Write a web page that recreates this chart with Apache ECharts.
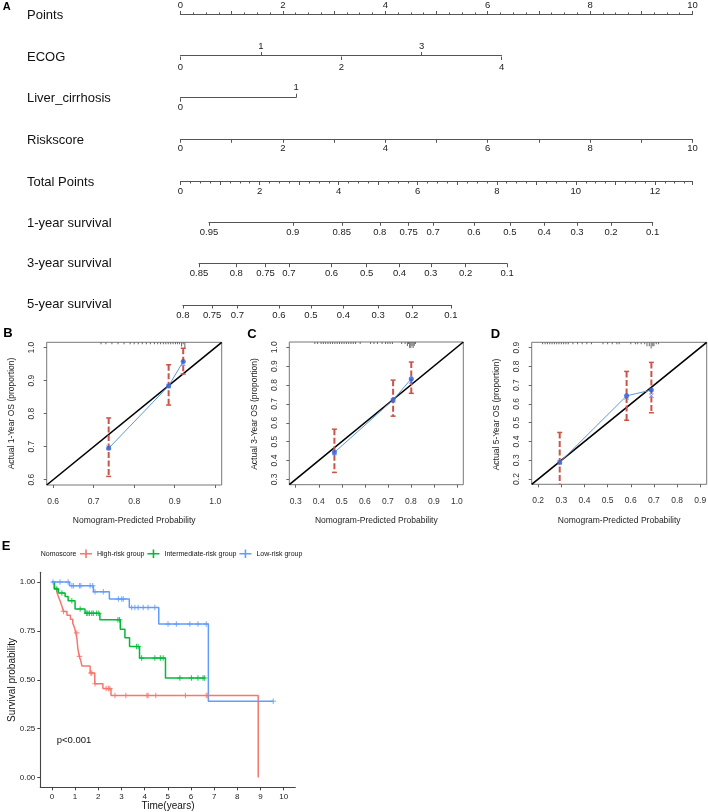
<!DOCTYPE html>
<html><head><meta charset="utf-8">
<script src="https://cdn.jsdelivr.net/npm/echarts@6/dist/echarts.min.js"></script>
<style>html,body{margin:0;padding:0;background:#fff}#c{width:708px;height:812px}</style>
</head><body><div id="c"></div>
<script>
// ================= DATA =================
// --- Panel A: nomogram ---
const rowLabels = ['Points','ECOG','Liver_cirrhosis','Riskscore','Total Points','1-year survival','3-year survival','5-year survival'];
const pointsMax = 10;
const ecogLevels = [0,1,2,3,4];
const ecogPoints = [0,1.57,3.14,4.71,6.27];
const liverLevels = [0,1];
const liverPoints = [0,2.26];
const riskscoreMax = 10;
const totalPointsMax = 12.95;
const surv1Labels = [0.95,0.9,0.85,0.8,0.75,0.7,0.6,0.5,0.4,0.3,0.2,0.1];
const surv1TP     = [0.72,2.84,4.08,5.04,5.77,6.39,7.42,8.33,9.20,10.03,10.89,11.94];
const surv3Labels = [0.85,0.8,0.75,0.7,0.6,0.5,0.4,0.3,0.2,0.1];
const surv3TP     = [0.47,1.41,2.15,2.74,3.82,4.71,5.54,6.33,7.21,8.26];
const surv5Labels = [0.8,0.75,0.7,0.6,0.5,0.4,0.3,0.2,0.1];
const surv5TP     = [0.06,0.80,1.44,2.49,3.30,4.12,5.00,5.85,6.84];

// --- Panels B/C/D: calibration ---
const calTicksB = [0.6,0.7,0.8,0.9,1.0];
const calTicksC = [0.3,0.4,0.5,0.6,0.7,0.8,0.9,1.0];
const calTicksD = [0.2,0.3,0.4,0.5,0.6,0.7,0.8,0.9];
const calB_pred = [0.737,0.885,0.921];
const calB_obs  = [0.695,0.884,0.958];
const calB_cor  = [0.697,0.884,0.951];
const calB_lo   = [0.610,0.826,0.920];
const calB_hi   = [0.787,0.948,0.998];
const calC_pred = [0.468,0.723,0.802];
const calC_obs  = [0.443,0.721,0.833];
const calC_cor  = [0.440,0.718,0.819];
const calC_lo   = [0.337,0.635,0.756];
const calC_hi   = [0.566,0.826,0.922];
const calD_pred = [0.293,0.582,0.689];
const calD_obs  = [0.288,0.643,0.674];
const calD_cor  = [0.290,0.636,0.643];
const calD_lo   = [0.160,0.513,0.553];
const calD_hi   = [0.448,0.773,0.821];
const calB_rugX = [0.718,0.73,0.745,0.76,0.775,0.79,0.80,0.81,0.82,0.83,0.84,0.85,0.858,0.865,0.872,0.878,0.884,0.89,0.896,0.902,0.907,0.912,0.917,0.921,0.925];
const calB_rugN = [1,1,1,1,1,1,1,1,1,1,1,1,1,1,1,1,1,1,1,1,1,1,2,1,3];
const calC_rugX = [0.383,0.395,0.41,0.42,0.43,0.44,0.45,0.46,0.47,0.48,0.49,0.50,0.51,0.52,0.53,0.54,0.55,0.56,0.58,0.625,0.64,0.655,0.675,0.69,0.70,0.71,0.72,0.76,0.775,0.785,0.79,0.795,0.80,0.805,0.81,0.815,0.82];
const calC_rugN = [1,1,1,1,1,1,1,1,1,1,1,1,1,1,1,1,1,1,1,1,1,1,1,1,1,1,1,1,1,2,1,3,3,2,3,2,1];
const calD_rugX = [0.219,0.23,0.24,0.25,0.26,0.27,0.28,0.29,0.30,0.31,0.32,0.33,0.35,0.37,0.39,0.41,0.43,0.48,0.50,0.52,0.54,0.55,0.60,0.62,0.63,0.645,0.66,0.67,0.68,0.688,0.695,0.70,0.71,0.72];
const calD_rugN = [1,1,1,1,1,1,1,1,1,1,1,1,1,1,1,1,1,1,1,1,1,1,1,1,1,1,1,2,2,3,2,2,1,1];
const calXTitle = 'Nomogram-Predicted Probability';
const calYTitles = ['Actual 1-Year OS (proportion)','Actual 3-Year OS (proportion)','Actual 5-Year OS (proportion)'];

// --- Panel E: Kaplan-Meier ---
const kmGroups = ['High-risk group','Intermediate-risk group','Low-risk group'];
const kmTimeHigh = [0,0.12,0.22,0.30,0.38,0.45,0.50,0.65,0.80,0.90,0.98,1.03,1.08,1.12,1.18,1.24,1.30,1.65,1.85,2.20,2.55,8.90];
const kmSurvHigh = [1,0.97,0.945,0.92,0.895,0.87,0.85,0.83,0.81,0.79,0.765,0.74,0.71,0.66,0.62,0.60,0.57,0.535,0.48,0.455,0.42,0];
const censorHigh = [0.50,1.07,1.19,1.68,1.72,1.86,2.34,2.44,2.50,2.72,3.19,4.10,4.15,4.48,5.76,6.66,6.73];
const kmTimeInt  = [0,0.10,0.28,0.57,0.70,1.00,1.43,2.07,2.95,3.15,3.35,3.78,4.90,6.60];
const kmSurvInt  = [1,0.965,0.944,0.926,0.905,0.862,0.84,0.807,0.759,0.715,0.67,0.611,0.509,0.509];
const censorInt  = [0.21,0.43,0.86,1.22,1.50,1.55,1.62,1.72,1.79,1.93,2.02,2.85,2.92,3.65,3.72,3.87,4.44,4.68,4.80,5.52,6.02,6.30,6.52,6.59];
const kmTimeLow  = [0,0.76,1.79,2.48,3.34,4.61,6.75,9.55];
const kmSurvLow  = [1,0.981,0.95,0.913,0.87,0.785,0.39,0.39];
const censorLow  = [0.05,0.35,0.70,0.86,0.93,1.19,1.25,1.65,1.76,1.86,2.22,2.87,3.01,3.08,3.44,3.58,3.72,3.94,4.15,4.44,5.01,5.37,5.95,6.30,6.66,9.55];
const kmXTicks = [0,1,2,3,4,5,6,7,8,9,10];
const kmYTicks = [0,0.25,0.5,0.75,1];
const pValueText = 'p<0.001';

// ================= BUILD =================
const FONT = '"Liberation Sans", Arial, Helvetica, sans-serif';
const PT_X0 = 180.5, PT_PX = 51.2, TP_PX = 512 / totalPointsMax;
const AX = '#555';
const grids = [], xAxes = [], yAxes = [], series = [], graphics = [];

function addGrid(g) {
  grids.push(Object.assign({show:false, containLabel:false, outerBoundsMode:'none'}, g));
  return grids.length - 1;
}
function rowGrid(top, unit, min, max) {
  const gi = addGrid({left: PT_X0 + min*unit, top: top, width: (max-min)*unit, height: 1});
  yAxes.push({gridIndex: gi, type:'value', show:false, min:0, max:1});
  return gi;
}
function rowAxis(gi, pos, min, max, o) {
  xAxes.push({
    gridIndex: gi, type:'value', position: pos, min: min, max: max, interval: o.interval,
    splitLine:{show:false},
    axisLine:{show: o.line !== false, onZero:false, lineStyle:{color:AX, width:1.2}},
    axisTick:{show:true, length:3.5, customValues:o.ticks, lineStyle:{color:AX, width:1}},
    minorTick: o.minor ? {show:true, splitNumber:o.minor, length:2, lineStyle:{color:AX, width:1}} : {show:false},
    axisLabel:{show:true, customValues:o.labels, formatter:o.fmt, margin:o.margin, fontSize:9.5, color:'#222', fontFamily:FONT}
  });
}
const lookup = (keys, vals) => v => { const i = keys.findIndex(k => Math.abs(k - v) < 1e-6); return i >= 0 ? String(vals[i]) : ''; };
const evenFmt = v => (Math.abs(v % 2) < 1e-9) ? String(v) : '';

// Points
let g = rowGrid(14.5, PT_PX, 0, pointsMax);
rowAxis(g, 'top', 0, pointsMax, {interval:1, minor:4, fmt:evenFmt, margin:4.5});
// ECOG
g = rowGrid(55.5, PT_PX, 0, ecogPoints[ecogPoints.length-1]);
rowAxis(g, 'top', 0, ecogPoints[ecogPoints.length-1], {ticks:[ecogPoints[1],ecogPoints[3]], labels:[ecogPoints[1],ecogPoints[3]], fmt:lookup(ecogPoints, ecogLevels), margin:4});
rowAxis(g, 'bottom', 0, ecogPoints[ecogPoints.length-1], {line:false, ticks:[ecogPoints[0],ecogPoints[2],ecogPoints[4]], labels:[ecogPoints[0],ecogPoints[2],ecogPoints[4]], fmt:lookup(ecogPoints, ecogLevels), margin:5.5});
// Liver cirrhosis
g = rowGrid(97.2, PT_PX, 0, liverPoints[1]);
rowAxis(g, 'top', 0, liverPoints[1], {ticks:[liverPoints[1]], labels:[liverPoints[1]], fmt:lookup(liverPoints, liverLevels), margin:4.5});
rowAxis(g, 'bottom', 0, liverPoints[1], {line:false, ticks:[liverPoints[0]], labels:[liverPoints[0]], fmt:lookup(liverPoints, liverLevels), margin:4.5});
// Riskscore
g = rowGrid(138.3, PT_PX, 0, riskscoreMax);
rowAxis(g, 'bottom', 0, riskscoreMax, {interval:1, fmt:evenFmt, margin:4});
// Total points
g = rowGrid(180.5, TP_PX, 0, totalPointsMax);
rowAxis(g, 'bottom', 0, totalPointsMax, {interval:1, minor:4, fmt:evenFmt, margin:5});
// survival rows
[[surv1TP, surv1Labels, 221.3], [surv3TP, surv3Labels, 262.7], [surv5TP, surv5Labels, 304]].forEach(([tp, lab, top]) => {
  const gg = rowGrid(top, TP_PX, tp[0], tp[tp.length-1]);
  rowAxis(gg, 'bottom', tp[0], tp[tp.length-1], {ticks:tp, labels:tp, fmt:lookup(tp, lab), margin:5});
});
// row labels
const rowY = [15, 57, 98, 140, 182, 223, 263.5, 304.5];
rowLabels.forEach((t, i) => graphics.push({type:'text', x:27, y:rowY[i], silent:true,
  style:{text:t, fontSize:13, fontFamily:FONT, fill:'#111', align:'left', verticalAlign:'middle', textAlign:'left', textVerticalAlign:'middle'}}));

// ---- calibration panels ----
const X_PATH = 'path://M0,1L1,0L5,4L9,0L10,1L6,5L10,9L9,10L5,6L1,10L0,9L4,5Z';
function calPanel(box, range, ticks, pred, obs, cor, lo, hi, rugX, rugN) {
  const gi = addGrid({left:box.l, top:box.t, width:box.w, height:box.h, show:true, borderColor:'#777', borderWidth:1, backgroundColor:'transparent'});
  xAxes.push({gridIndex:gi, type:'value', min:range[0], max:range[1], splitLine:{show:false},
    axisLine:{show:false, onZero:false},
    axisTick:{show:true, customValues:ticks, length:3, inside:false, lineStyle:{color:'#666', width:1}},
    axisLabel:{customValues:ticks, formatter:v => v.toFixed(1), margin:12, fontSize:8.5, color:'#333', fontFamily:FONT}});
  const xi = xAxes.length - 1;
  yAxes.push({gridIndex:gi, type:'value', position:'left', min:range[0], max:range[1], splitLine:{show:false},
    axisLine:{show:false, onZero:false},
    axisTick:{show:true, customValues:ticks, length:3, lineStyle:{color:'#666', width:1}},
    axisLabel:{customValues:ticks, rotate:90, formatter:v => v.toFixed(1), margin:10.5, fontSize:8.5, color:'#333', fontFamily:FONT}});
  const yi = yAxes.length - 1;
  yAxes.push({gridIndex:gi, type:'value', show:false, inverse:true, min:0, max:70, position:'right'});
  const yr = yAxes.length - 1;
  // rug of predicted probabilities
  series.push({type:'bar', xAxisIndex:xi, yAxisIndex:yr, barWidth:1, silent:true, itemStyle:{color:'#666'},
    data: rugX.map((x, i) => [x, rugN[i]]), z:1});
  // ideal line
  series.push({type:'line', xAxisIndex:xi, yAxisIndex:yi, data:[[range[0],range[0]],[range[1],range[1]]], symbol:'none', silent:true,
    lineStyle:{color:'#000', width:1.6}, z:2});
  // apparent calibration line
  series.push({type:'line', xAxisIndex:xi, yAxisIndex:yi, data:pred.map((p,i)=>[p,obs[i]]), symbol:'none', silent:true,
    lineStyle:{color:'#5b9bd5', width:1}, z:3});
  // error bars
  series.push({type:'custom', xAxisIndex:xi, yAxisIndex:yi, silent:true, z:4,
    data: pred.map((p,i)=>[p, lo[i], hi[i]]),
    renderItem: (params, api) => {
      const cs = params.coordSys;
      const x = api.value(0);
      const top = api.coord([x, api.value(2)]), bot = api.coord([x, api.value(1)]);
      const yT = Math.max(top[1], cs.y), yB = Math.min(bot[1], cs.y + cs.height);
      const col = '#c9554a';
      const ch = [{type:'line', shape:{x1:top[0], y1:yT, x2:top[0], y2:yB}, style:{stroke:col, lineWidth:2, lineDash:[6,2.5]}}];
      if (top[1] >= cs.y) ch.push({type:'line', shape:{x1:top[0]-2.5, y1:top[1], x2:top[0]+2.5, y2:top[1]}, style:{stroke:col, lineWidth:1.5}});
      if (bot[1] <= cs.y + cs.height) ch.push({type:'line', shape:{x1:bot[0]-2.5, y1:bot[1], x2:bot[0]+2.5, y2:bot[1]}, style:{stroke:col, lineWidth:1.5}});
      return {type:'group', children:ch};
    }});
  series.push({type:'scatter', xAxisIndex:xi, yAxisIndex:yi, data:pred.map((p,i)=>[p,obs[i]]), symbol:'circle', symbolSize:5, silent:true,
    itemStyle:{color:'#2c5fd4'}, z:5});
  series.push({type:'scatter', xAxisIndex:xi, yAxisIndex:yi, data:pred.map((p,i)=>[p,cor[i]]), symbol:X_PATH, symbolSize:5, silent:true,
    itemStyle:{color:'#4a72e8'}, z:6});
}
calPanel({l:46.7, t:342.3, w:175, h:142.7}, [0.584,1.016], calTicksB, calB_pred, calB_obs, calB_cor, calB_lo, calB_hi, calB_rugX, calB_rugN);
calPanel({l:289.3, t:342, w:174, h:142.7}, [0.272,1.028], calTicksC, calC_pred, calC_obs, calC_cor, calC_lo, calC_hi, calC_rugX, calC_rugN);
calPanel({l:531.7, t:342.3, w:175, h:142}, [0.172,0.928], calTicksD, calD_pred, calD_obs, calD_cor, calD_lo, calD_hi, calD_rugX, calD_rugN);

const txt = (t, x, y, o) => graphics.push({type:'text', x:x, y:y, rotation:o.rot||0, silent:true,
  style:Object.assign({text:t, fontSize:o.size, fontFamily:FONT, fontWeight:o.bold?'bold':'normal', fill:o.color||'#111',
    align:o.align||'center', verticalAlign:'middle', textAlign:o.align||'center', textVerticalAlign:'middle'})});
// calibration titles
[134.2, 376.3, 619.2].forEach(x => txt(calXTitle, x, 521, {size:8.5, color:'#222'}));
[[11.7,413.5],[254.3,414],[496.7,414.5]].forEach(([x,y],i) => txt(calYTitles[i], x, y, {size:8.5, rot:Math.PI/2, color:'#222'}));
// panel letters
txt('A', 2.7, 7.3, {size:11, bold:true, align:'left', color:'#000'});
txt('B', 3.3, 333.5, {size:13, bold:true, align:'left', color:'#000'});
txt('C', 247.3, 334, {size:13, bold:true, align:'left', color:'#000'});
txt('D', 490.7, 334, {size:13, bold:true, align:'left', color:'#000'});
txt('E', 1.7, 546.5, {size:13, bold:true, align:'left', color:'#000'});

// ---- Kaplan-Meier ----
const kmG = addGrid({left:40.3, top:572.3, width:255, height:215});
xAxes.push({gridIndex:kmG, type:'value', min:-0.5, max:10.5, splitLine:{show:false},
  axisLine:{show:true, onZero:false, lineStyle:{color:'#444', width:1.1}},
  axisTick:{show:true, customValues:kmXTicks, length:3, lineStyle:{color:'#444', width:1}},
  axisLabel:{customValues:kmXTicks, margin:5, fontSize:8, color:'#222', fontFamily:FONT}});
const kmX = xAxes.length - 1;
yAxes.push({gridIndex:kmG, type:'value', min:-0.05, max:1.05, splitLine:{show:false},
  axisLine:{show:true, onZero:false, lineStyle:{color:'#444', width:1.1}},
  axisTick:{show:true, customValues:kmYTicks, length:3, lineStyle:{color:'#444', width:1}},
  axisLabel:{customValues:kmYTicks, formatter:v => v.toFixed(2), margin:5, fontSize:8, color:'#222', fontFamily:FONT}});
const kmY = yAxes.length - 1;
const kmColors = ['#F8766D','#00BA38','#619CFF'];
const CROSS = 'path://M4,0H6V4H10V6H6V10H4V6H0V4H4Z';
const survAt = (times, surv, t) => { let s = surv[0]; for (let i = 0; i < times.length; i++) { if (times[i] <= t + 1e-9) s = surv[i]; } return s; };
[[kmTimeHigh, kmSurvHigh, censorHigh], [kmTimeInt, kmSurvInt, censorInt], [kmTimeLow, kmSurvLow, censorLow]].forEach(([tt, ss, cc], k) => {
  series.push({type:'line', name:kmGroups[k], xAxisIndex:kmX, yAxisIndex:kmY, step:'end', symbol:'none', silent:true,
    data: tt.map((t,i)=>[t, ss[i]]), lineStyle:{color:kmColors[k], width:1.5}, itemStyle:{color:kmColors[k]}, color:kmColors[k], z:3});
  series.push({type:'scatter', name:kmGroups[k] + ' (censored)', xAxisIndex:kmX, yAxisIndex:kmY, symbol:CROSS, symbolSize:5.5, silent:true,
    data: cc.map(t => [t, survAt(tt, ss, t)]), itemStyle:{color:kmColors[k]}, z:4});
});
txt('Survival probability', 12.7, 680, {size:10, rot:Math.PI/2, color:'#111'});
txt('Time(years)', 168, 806, {size:10, color:'#111'});
txt(pValueText, 56.7, 740, {size:9.5, align:'left', color:'#111'});
txt('Nomoscore', 40.7, 554, {size:7, align:'left', color:'#111'});

const LEG_ICON = 'path://M0,3.7H5.2V0.3H6.8V3.7H12V5.3H6.8V8.7H5.2V5.3H0Z';
const option = {
  animation:false,
  backgroundColor:'#fff',
  textStyle:{fontFamily:FONT},
  grid: grids, xAxis: xAxes, yAxis: yAxes, series: series,
  legend:{data: kmGroups.map((n,k) => ({name:n, icon:LEG_ICON, itemStyle:{color:kmColors[k], opacity:1}})),
    left:80, top:549.5, padding:0, itemWidth:12, itemHeight:9, itemGap:3,
    textStyle:{fontSize:7, color:'#111', fontFamily:FONT}},
  graphic: graphics
};
const chart = echarts.init(document.getElementById('c'), null, {renderer:'canvas'});
chart.setOption(option);
</script></body></html>
